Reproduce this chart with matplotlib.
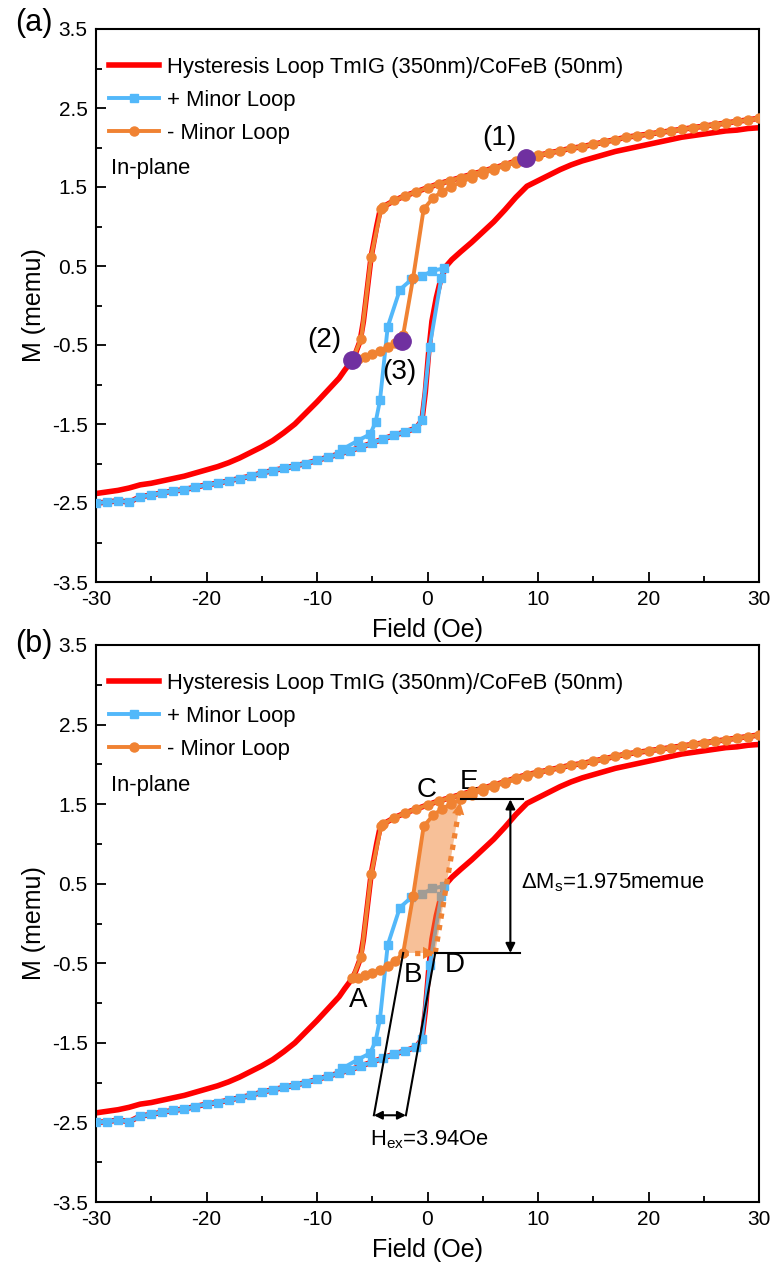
import matplotlib.pyplot as plt
from matplotlib.lines import Line2D
from matplotlib.patches import Polygon
from matplotlib.ticker import FixedLocator, MultipleLocator

plt.rcParams['font.family'] = ['Liberation Sans', 'DejaVu Sans']
plt.rcParams['mathtext.fontset'] = 'custom'
plt.rcParams['mathtext.rm'] = 'Liberation Sans'
plt.rcParams['axes.unicode_minus'] = False

RED = '#FF0000'
BLUE = '#52B8FA'
ORANGE = '#F08232'
PURPLE = '#7030A0'

# major loop, field swept down from +30 Oe
desc_field = [30, 29, 28, 27, 26, 25, 24, 23, 22, 21, 20, 19, 18, 17, 16, 15, 14, 13, 12, 11,
              10, 9, 8, 7, 6, 5, 4, 3, 2, 1, 0, -1, -2, -3, -4,
              -4.3, -4.6, -5.1, -5.5, -5.8, -6.1, -6.5, -6.8, -7.5, -8,
              -9, -10, -11, -12, -13, -14, -15, -16, -17, -18, -19, -20, -21, -22, -23, -24,
              -25, -26, -27, -28, -29, -30]
desc_m = [2.37, 2.35, 2.33, 2.31, 2.29, 2.27, 2.25, 2.23, 2.21, 2.19, 2.17, 2.15, 2.13, 2.10, 2.07,
          2.04, 2.01, 1.99, 1.96, 1.93, 1.90, 1.87, 1.83, 1.78, 1.74, 1.70, 1.66, 1.62, 1.58, 1.54,
          1.49, 1.44, 1.39, 1.33, 1.25,
          1.20, 1.00, 0.62, 0.15, -0.20, -0.45, -0.60, -0.69, -0.82, -0.92,
          -1.07, -1.22, -1.36, -1.50, -1.61, -1.71, -1.79, -1.86, -1.93, -1.99, -2.04, -2.08,
          -2.12, -2.16, -2.19, -2.22, -2.25, -2.27, -2.31, -2.34, -2.36, -2.38]

# major loop, field swept up from -30 Oe
asc_field = [-30, -29, -28, -27, -26, -25, -24, -23, -22, -21, -20, -19, -18, -17, -16, -15,
             -14, -13, -12, -11, -10, -9, -8, -7, -6, -5, -4, -3, -2, -1,
             -0.5, -0.2, 0.1, 0.4, 0.8, 1.2, 1.7, 2.2,
             3, 4, 5, 6, 7, 8, 9, 10, 11, 12, 13, 14, 15, 16, 17, 18, 19, 20, 21, 22, 23, 24,
             25, 26, 27, 28, 29, 30]
asc_m = [-2.50, -2.49, -2.47, -2.49, -2.42, -2.40, -2.37, -2.35, -2.33, -2.30, -2.27, -2.25,
         -2.22, -2.19, -2.16, -2.12, -2.09, -2.06, -2.03, -2.00, -1.96, -1.92, -1.88, -1.84,
         -1.79, -1.74, -1.69, -1.64, -1.60, -1.55,
         -1.45, -1.10, -0.60, -0.20, 0.10, 0.33, 0.50, 0.58,
         0.68, 0.80, 0.93, 1.06, 1.21, 1.37, 1.51, 1.58, 1.65, 1.72, 1.78, 1.83, 1.87, 1.91,
         1.95, 1.98, 2.01, 2.04, 2.07, 2.10, 2.13, 2.15, 2.17, 2.19, 2.21, 2.22, 2.24, 2.25]

# + minor loop: major ascending branch up to -0.5 Oe, then these points
plus_turn_field = [0.2, 1.25, 1.5, 0.45, -0.5, -1.45, -2.5, -3.6, -4.3, -4.7, -5.2, -6.3, -7.7]
plus_turn_m = [-0.52, 0.35, 0.47, 0.44, 0.37, 0.33, 0.20, -0.27, -1.20, -1.48, -1.63, -1.71, -1.82]

# - minor loop: major descending branch down to -4 Oe, then these points
minus_turn_field = [-4.2, -5.1, -6.0, -6.8, -6.3, -5.7, -5.0, -4.3, -3.6, -2.9, -2.2, -1.3, -0.35,
                    0.5, 1.3, 2.1, 3.0, 4.0, 5.0, 6.0, 7.0, 8.0, 9.0, 10.0]
minus_turn_m = [1.22, 0.62, -0.42, -0.69, -0.68, -0.65, -0.62, -0.58, -0.53, -0.47, -0.37, 0.35,
                1.22, 1.36, 1.44, 1.50, 1.56, 1.62, 1.67, 1.72, 1.77, 1.81, 1.85, 1.89]

plus_field = asc_field[:31] + plus_turn_field
plus_m = asc_m[:31] + plus_turn_m
minus_field = desc_field[:35] + minus_turn_field
minus_m = desc_m[:35] + minus_turn_m

# panel (a) marked states
marked_field = [8.9, -6.8, -2.35]
marked_m = [1.87, -0.69, -0.45]
marked_text = ['(1)', '(2)', '(3)']
marked_text_pos = [(6.5, 2.12), (-9.3, -0.44), (-2.5, -0.84)]

# panel (b) construction
b_idx, e_idx = 10, 16          # B and E on the - minor loop return branch
hex_shift = 2.9                # B -> D
hex_y = -2.41
hex_slope = 1.3                # Oe per memu of the slanted guide lines
dms_x = 7.5
letters = ['A', 'B', 'C', 'D', 'E']
letter_pos = [(-6.3, -0.96), (-1.3, -0.65), (-0.1, 1.68), (2.45, -0.52), (3.8, 1.78)]

y_major = [-3.5, -2.5, -1.5, -0.5, 0.5, 1.5, 2.5, 3.5]


def draw_panel(ax):
    ax.plot(desc_field, desc_m, color=RED, lw=4, zorder=2)
    ax.plot(asc_field, asc_m, color=RED, lw=4, zorder=2)
    ax.plot(plus_field, plus_m, color=BLUE, lw=2.8, marker='s', ms=6, zorder=3)
    ax.plot(minus_field, minus_m, color=ORANGE, lw=2.8, marker='o', ms=6.5, zorder=5)

    ax.set_xlim(-30, 30)
    ax.set_ylim(-3.5, 3.5)
    ax.xaxis.set_major_locator(MultipleLocator(10))
    ax.xaxis.set_minor_locator(MultipleLocator(5))
    ax.yaxis.set_major_locator(FixedLocator(y_major))
    ax.yaxis.set_minor_locator(MultipleLocator(1))
    ax.tick_params(which='both', direction='in', labelsize=15, width=1.3)
    ax.tick_params(which='major', length=7, pad=6)
    ax.tick_params(which='minor', length=4)
    for s in ax.spines.values():
        s.set_linewidth(1.5)
    ax.set_xlabel('Field (Oe)', fontsize=18, labelpad=6)
    ax.set_ylabel('M (memu)', fontsize=18, labelpad=4)

    handles = [
        Line2D([], [], color=RED, lw=4),
        Line2D([], [], color=BLUE, lw=2.8, marker='s', ms=6),
        Line2D([], [], color=ORANGE, lw=2.8, marker='o', ms=6.5),
    ]
    labels = ['Hysteresis Loop TmIG (350nm)/CoFeB (50nm)', '+ Minor Loop', '- Minor Loop']
    ax.legend(handles, labels, loc='upper left', bbox_to_anchor=(0.0196, 0.95), frameon=False,
              fontsize=15.8, handlelength=2.3, handletextpad=0.35, labelspacing=0.55,
              borderpad=0, borderaxespad=0, numpoints=1)
    ax.text(-28.6, 1.74, 'In-plane', fontsize=15.8, ha='left', va='center')


fig = plt.figure(figsize=(7.77, 12.63), dpi=100)
ax1 = fig.add_axes([96 / 777, 1 - 582 / 1263, 663 / 777, 553 / 1263])
ax2 = fig.add_axes([96 / 777, 1 - 1202 / 1263, 663 / 777, 557 / 1263])

# (a)
draw_panel(ax1)
ax1.plot(marked_field, marked_m, 'o', color=PURPLE, ms=12.5, zorder=6)
for t, (tx, ty) in zip(marked_text, marked_text_pos):
    ax1.text(tx, ty, t, fontsize=20, ha='center', va='center')

# (b)
draw_panel(ax2)
bx, by = minus_turn_field[b_idx], minus_turn_m[b_idx]
ex, ey = minus_turn_field[e_idx], minus_turn_m[e_idx]
dx, dy = bx + hex_shift, by

ret = list(zip(minus_turn_field[b_idx:e_idx + 1], minus_turn_m[b_idx:e_idx + 1]))
shade = Polygon([(dx, dy)] + ret[::-1], closed=True, facecolor=ORANGE, alpha=0.5,
                edgecolor='none', zorder=4)
ax2.add_patch(shade)

# shifted branch: dotted orange guides with heads
for (x0, y0), (x1, y1) in [((bx, by), (dx, dy)), ((dx, dy), (ex, ey))]:
    ax2.plot([x0, x1], [y0, y1], color=ORANGE, lw=3.8, ls=(0, (1, 1.2)), zorder=5)
    ax2.annotate('', xy=(x1, y1), xytext=(x1 - 0.12 * (x1 - x0), y1 - 0.12 * (y1 - y0)),
                 arrowprops=dict(arrowstyle='-|>', color=ORANGE, lw=0, mutation_scale=22),
                 zorder=5)

# delta Ms
ax2.plot([ex, 8.6], [ey, ey], color='black', lw=1.5, zorder=6)
ax2.plot([dx, 8.4], [dy, dy], color='black', lw=1.5, zorder=6)
ax2.annotate('', xy=(dms_x, ey), xytext=(dms_x, dy),
             arrowprops=dict(arrowstyle='<|-|>', color='black', lw=1.5, mutation_scale=14,
                             shrinkA=0, shrinkB=0))
ax2.text(8.5, 0.51, r'ΔM$_{\mathrm{s}}$=1.975memue', fontsize=15.8, ha='left', va='center')

# H_ex guides
lx = bx - (by - hex_y) * hex_slope
rx = dx - (dy - hex_y) * hex_slope
ax2.plot([bx, lx], [by, hex_y], color='black', lw=1.5, zorder=6)
ax2.plot([dx, rx], [dy, hex_y], color='black', lw=1.5, zorder=6)
ax2.annotate('', xy=(rx, hex_y), xytext=(lx, hex_y),
             arrowprops=dict(arrowstyle='<|-|>', color='black', lw=1.5, mutation_scale=12,
                             shrinkA=0, shrinkB=0))
ax2.text(0.2, -2.72, r'H$_{\mathrm{ex}}$=3.94Oe', fontsize=15.8, ha='center', va='center')

for t, (tx, ty) in zip(letters, letter_pos):
    ax2.text(tx, ty, t, fontsize=20, ha='center', va='center')

fig.text(0.044, 1 - 23 / 1263, '(a)', fontsize=22, ha='center', va='center')
fig.text(0.044, 1 - 644 / 1263, '(b)', fontsize=22, ha='center', va='center')

fig.savefig('out.png', dpi=100)
